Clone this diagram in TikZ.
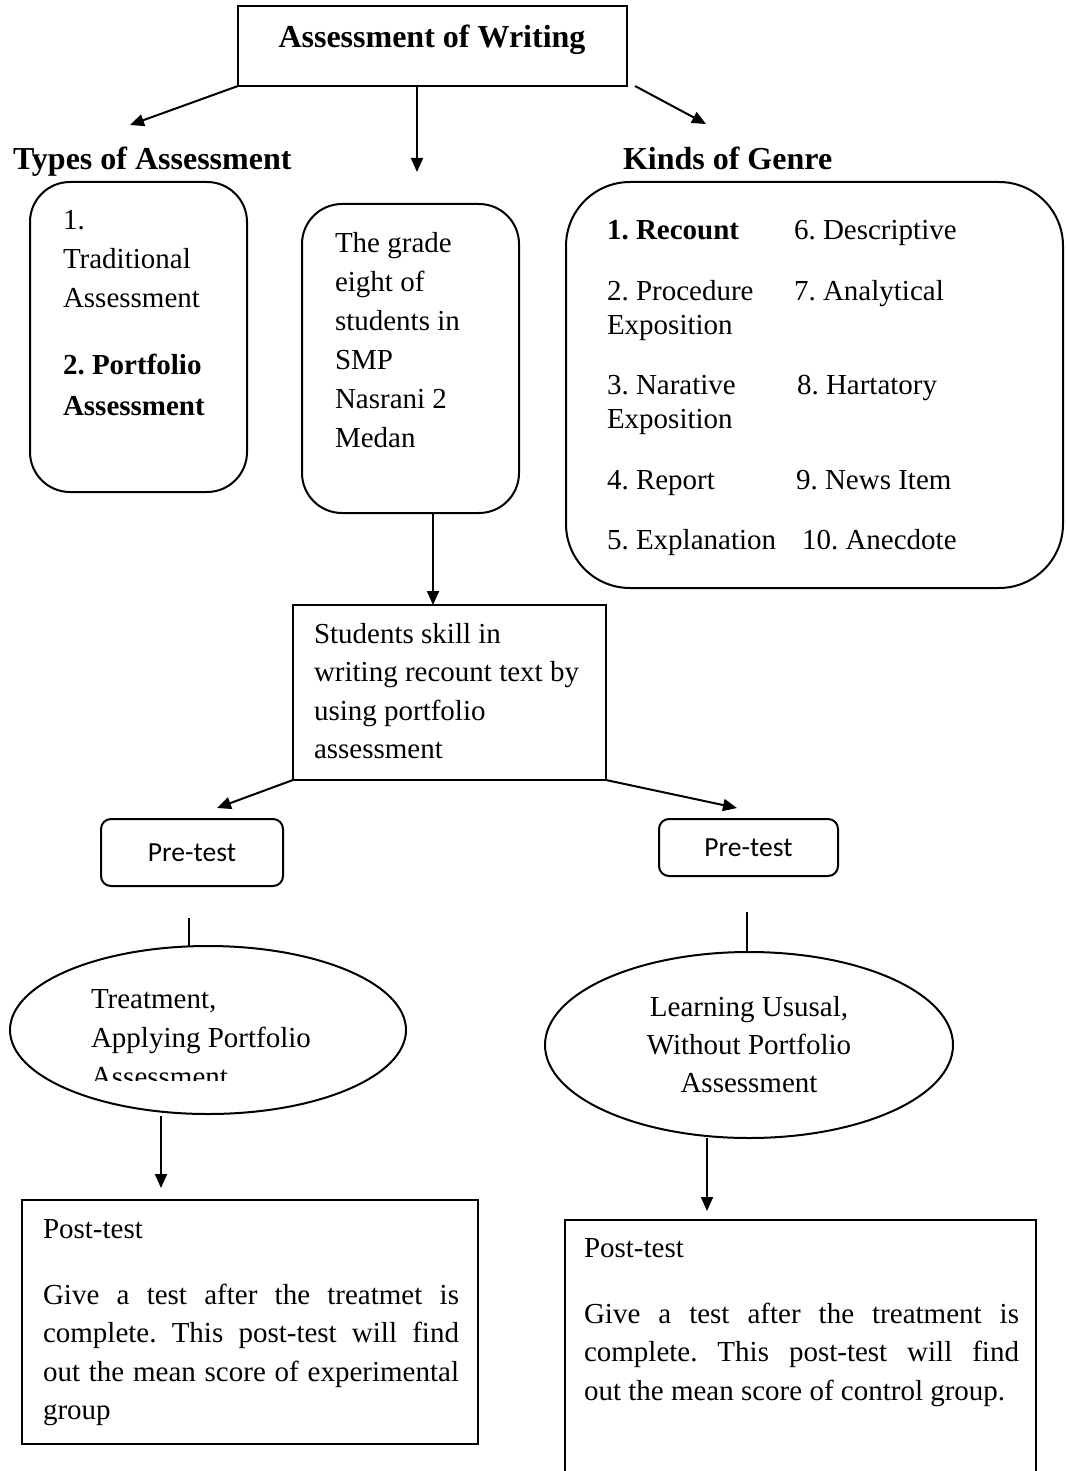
\documentclass[tikz,border=0pt]{standalone}
\usepackage{fontspec}
\setmainfont{Liberation Serif}
\newfontfamily\prefont{Carlito}
\usetikzlibrary{arrows.meta}
\usetikzlibrary{shapes.geometric}
\tikzset{every picture/.style={line width=1pt}}
\frenchspacing

\begin{document}
\begin{tikzpicture}[x=0.5pt,y=-0.5pt,>={Triangle[length=7pt,width=6pt]},
  box/.style={draw,anchor=north west,inner sep=0pt,outer sep=0pt},
  rbox/.style={box,rounded corners=#1},
  txt/.style={anchor=base west,inner sep=0pt,align=left,font=\fontsize{14.5}{19.5}\selectfont},
  gtxt/.style={txt,font=\fontsize{14.5}{17}\selectfont},
  head/.style={anchor=base west,inner sep=0pt,font=\fontsize{16}{19.5}\selectfont\bfseries},
  oval/.style={draw,ellipse,inner sep=0pt,outer sep=0pt},
  note/.style={anchor=base west,inner sep=0pt,text width=#1,align=justify,font=\fontsize{14.5}{19.25}\selectfont}]
\useasboundingbox (0,0) rectangle (1065,1471);

%Boxes
\node[box,minimum width=194.5pt,minimum height=40pt] (top) at (238,6) {};
\node[rbox=20pt,minimum width=108.5pt,minimum height=155pt] (types) at (30,182) {};
\node[rbox=20pt,minimum width=108.5pt,minimum height=154.5pt] (grade) at (302,204) {};
\node[rbox=32pt,minimum width=248.5pt,minimum height=203pt] (genre) at (566,182) {};
\node[box,minimum width=156.5pt,minimum height=87.5pt] (skill) at (293,605) {};
\node[rbox=5pt,minimum width=91pt,minimum height=33.5pt,font=\prefont\fontsize{13.8}{16}\selectfont,anchor=center] (pre1) at (192,852.5) {Pre-test};
\node[rbox=5pt,minimum width=89.5pt,minimum height=28.5pt,font=\prefont\fontsize{13.8}{16}\selectfont,anchor=center] (pre2) at (748.5,847.5) {Pre-test};
\node[oval,minimum width=198pt,minimum height=84pt] (treat) at (208,1030) {};
\node[oval,minimum width=204pt,minimum height=93pt,align=center,font=\fontsize{14.5}{19}\selectfont] (usual) at (749,1045) {Learning Ususal,\\Without Portfolio\\Assessment};
\node[box,minimum width=228pt,minimum height=122pt] (post1) at (22,1200) {};
\node[box,minimum width=235.5pt,minimum height=135pt] (post2) at (565,1220) {};

%Headings
\node[head,anchor=base] (ttl) at (432,48) {Assessment of Writing};
\node[head] (htypes) at (12,170) {Types of Assessment};
\node[head] (hgenre) at (622,170) {Kinds of Genre};

%Texts in boxes (base = last line)
\node[txt] (t1) at (62,307) {1.\\Traditional\\Assessment};
\node[txt,font=\fontsize{14.5}{20.5}\selectfont\bfseries] (t2) at (62,415) {2. Portfolio\\Assessment};
\node[txt] (t3) at (334,447) {The grade\\eight of\\students in\\SMP\\Nasrani 2\\Medan};
\node[txt] (g1) at (606,240) {\textbf{1. Recount}};
\node[gtxt] (g2) at (606,334) {2. Procedure\\Exposition};
\node[gtxt] (g3) at (606,428) {3. Narative\\Exposition};
\node[txt] (g4) at (606,489) {4. Report};
\node[txt] (g5) at (606,549) {5. Explanation};
\foreach \n/\x/\y/\t in {6/793/240/6. Descriptive,7/793/300/7. Analytical,8/796/394/8. Hartatory,9/795/489/9. News Item,10/801/549/10. Anecdote}
  \node[txt] (g\n) at (\x,\y) {\t};
\node[txt,font=\fontsize{14.5}{19.25}\selectfont] (t4) at (313,758.5) {Students skill in\\writing recount text by\\using portfolio\\assessment};
\begin{scope}
  \clip (60,950) rectangle (400,1080);
  \node[txt] (t5) at (90,1086) {Treatment,\\Applying Portfolio\\Assessment};
\end{scope}
% justified notes (base = first line)
\node[note=208pt] (t6) at (42,1238) {Post-test\par\vspace{13.75pt}Give a test after the treatmet is\linebreak complete. This post-test will find\linebreak out the mean score of experimental\linebreak group};
\node[note=217.5pt] (t7) at (583,1257) {Post-test\par\vspace{13.75pt}Give a test after the treatment is\linebreak complete. This post-test will find\linebreak out the mean score of control group.};

%Connectors
\coordinate (a1) at (130,125);
\coordinate (a2) at (417,172);
\coordinate (a3) at (706,124);
\draw[->] (top.south west) -- (a1);
\draw[->] (top.south -| a2) -- (a2);
\draw[->] ([xshift=4pt]top.south east) -- (a3);
\coordinate (gs) at (433,513);
\draw[->] (gs) -- (gs |- skill.north);
\coordinate (b1) at (217,808);
\coordinate (b2) at (737,808);
\draw[->] (skill.south west) -- (b1);
\draw[->] (skill.south east) -- (b2);
\coordinate (c1) at (189,918);
\coordinate (c2) at (747,912);
\draw (c1) -- (c1 |- treat.north);
\draw (c2) -- (c2 |- usual.north);
\coordinate (d1) at (161,1188);
\coordinate (d2) at (707,1211);
\draw[->] ([yshift=-1pt]d1 |- treat.south) -- (d1);
\draw[->] (d2 |- usual.south) -- (d2);
\end{tikzpicture}
\end{document}
